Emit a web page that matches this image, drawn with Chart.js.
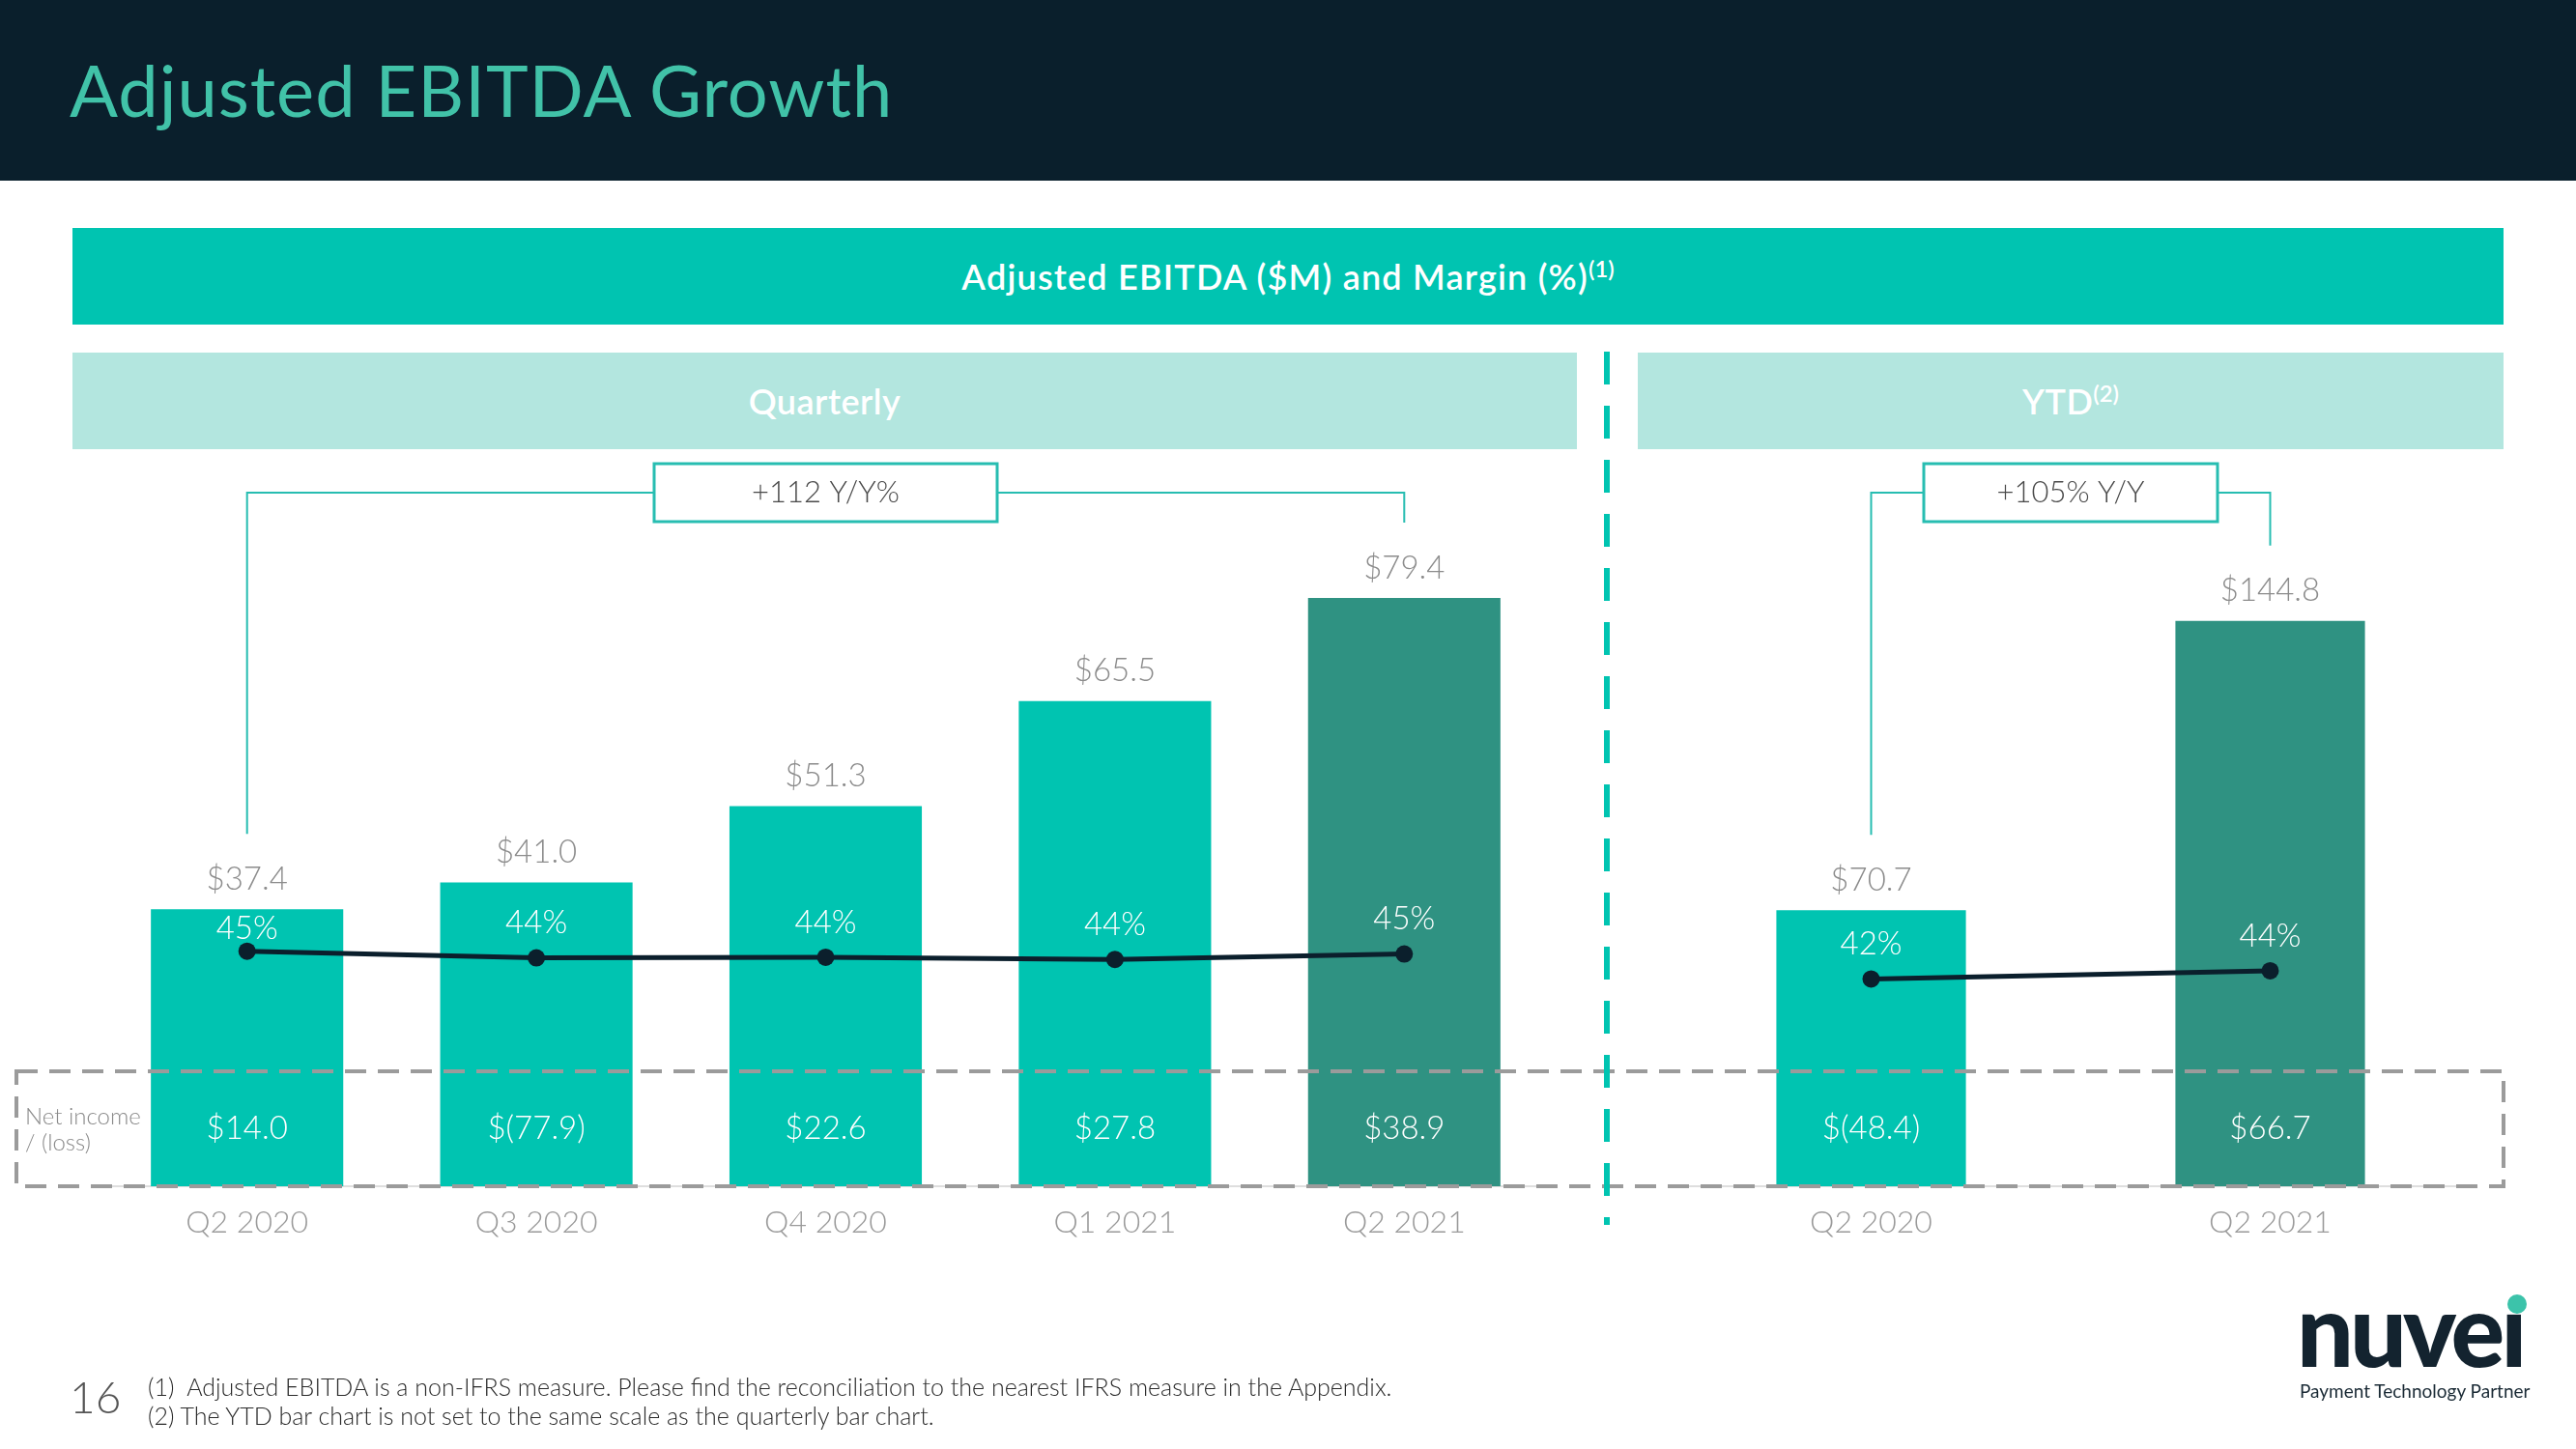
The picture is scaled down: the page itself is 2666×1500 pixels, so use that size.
<!DOCTYPE html>
<html>
<head>
<meta charset="utf-8">
<script src="https://cdn.jsdelivr.net/npm/chart.js@4.4.1/dist/chart.umd.min.js"></script>
<style>
body { margin: 0; width: 2666px; height: 1500px; position: relative; background: #fff; font-family: Lato, sans-serif; overflow: hidden; }
.abs { position: absolute; }
#header { left: 0; top: 0; width: 2666px; height: 187px; background: #0a1f2c; }
#title { left: 72px; top: 56px; font-size: 74px; line-height: 1; color: #41c2a8; white-space: nowrap; letter-spacing: 1px; }
#band { left: 75px; top: 236px; width: 2516px; height: 100px; background: #00c4b1; color: #fff; display: flex; align-items: center; justify-content: center; font-size: 36px; font-weight: 600; letter-spacing: 1.2px; }
.sub { top: 365px; height: 100px; background: #b3e6df; color: #fff; display: flex; align-items: center; justify-content: center; font-size: 36px; font-weight: 600; letter-spacing: 0.5px; }
sup { font-size: 66%; line-height: 0; position: relative; top: -0.55em; vertical-align: baseline; letter-spacing: 0; }
#netlabel { left: 26px; top: 1141px; font-size: 24px; line-height: 27px; color: #8a8a8a; font-weight: 300; }
#page { left: 72px; top: 1423px; font-size: 46px; line-height: 1; color: #555; font-weight: 300; }
#notes { left: 153px; top: 1420px; font-size: 25px; line-height: 30px; color: #2a2a2a; font-weight: 300; white-space: nowrap; }
#logo { left: 2377px; top: 1323px; font-size: 104px; line-height: 1; font-weight: 900; color: #13232f; letter-spacing: -4px; }
#dot { left: 2595px; top: 1340px; width: 20px; height: 20px; border-radius: 50%; background: #3cc3aa; }
#tagline { left: 2380px; top: 1428px; font-size: 19px; line-height: 24px; color: #1a2a35; }
canvas { position: absolute; }
svg { position: absolute; left: 0; top: 0; pointer-events: none; }
</style>
</head>
<body>
<div id="header" class="abs"></div>
<div id="title" class="abs">Adjusted EBITDA Growth</div>
<div id="band" class="abs"><span>Adjusted EBITDA ($M) and Margin (%)<sup>(1)</sup></span></div>
<div class="abs sub" style="left:75px;width:1557px;"><span>Quarterly</span></div>
<div class="abs sub" style="left:1695px;width:896px;"><span>YTD<sup>(2)</sup></span></div>

<canvas id="quarterChart" width="1640" height="830" style="left:0;top:470px;"></canvas>
<canvas id="ytdChart" width="986" height="830" style="left:1680px;top:470px;"></canvas>

<svg width="2666" height="1500">
  <rect x="17" y="1109" width="2574" height="119" fill="none" stroke="#9b9b9b" stroke-width="4" stroke-dasharray="22 12"/>
  <line x1="1663" y1="364" x2="1663" y2="1268" stroke="#00c4b1" stroke-width="6" stroke-dasharray="34 22"/>
</svg>

<div id="netlabel" class="abs">Net income<br>/ (loss)</div>
<div id="page" class="abs">16</div>
<div id="notes" class="abs">(1)&nbsp; Adjusted EBITDA is a non-IFRS measure. Please find the reconciliation to the nearest IFRS measure in the Appendix.<br>(2) The YTD bar chart is not set to the same scale as the quarterly bar chart.</div>
<div id="logo" class="abs">nuveı</div>
<div id="dot" class="abs"></div>
<div id="tagline" class="abs">Payment Technology Partner</div>

<script>
// quarterly data
var quarters = ['Q2 2020', 'Q3 2020', 'Q4 2020', 'Q1 2021', 'Q2 2021'];
var quarterEbitda = [37.4, 41.0, 51.3, 65.5, 79.4];
var quarterMargin = [45.1, 43.9, 44.0, 43.6, 44.6];
var quarterNet = [14.0, -77.9, 22.6, 27.8, 38.9];

// year to date data
var ytdPeriods = ['Q2 2020', 'Q2 2021'];
var ytdEbitda = [70.7, 144.8];
var ytdMargin = [42.0, 44.0];
var ytdNet = [-48.4, 66.7];

var teal = '#00c4b1';
var darkTeal = '#2f9282';
var navy = '#0b1f2c';

function money(v) {
    return v < 0 ? '$(' + Math.abs(v).toFixed(1) + ')' : '$' + v.toFixed(1);
}

var valueLabels = {
    id: 'valueLabels',
    afterDatasetsDraw: function(chart, args, opts) {
        var ctx = chart.ctx;
        var bars = chart.getDatasetMeta(0).data;
        var pts = chart.getDatasetMeta(1).data;
        var vals = chart.data.datasets[0].data;
        var margins = chart.data.datasets[1].data;
        ctx.save();
        ctx.textAlign = 'center';
        ctx.textBaseline = 'middle';
        ctx.font = '300 33px Lato';
        bars.forEach(function(b, i) {
            ctx.fillStyle = '#8c8c8c';
            ctx.fillText(money(vals[i]), b.x, b.y - 31);
            ctx.fillStyle = '#fff';
            // keep the margin label inside the bar
            var ly = Math.max(pts[i].y - 36, b.y + 20);
            ctx.fillText(Math.round(margins[i]) + '%', pts[i].x, ly);
            ctx.fillText(money(opts.net[i]), b.x, chart.chartArea.bottom - 60);
        });

        // growth bracket
        var first = bars[0], last = bars[bars.length - 1];
        var lineY = 40;
        var cx = (first.x + last.x) / 2;
        ctx.strokeStyle = '#27bdb1';
        ctx.lineWidth = 2;
        ctx.beginPath();
        ctx.moveTo(first.x, first.y - 78);
        ctx.lineTo(first.x, lineY);
        ctx.lineTo(last.x, lineY);
        ctx.lineTo(last.x, last.y - 78);
        ctx.stroke();
        ctx.fillStyle = '#fff';
        ctx.fillRect(cx - opts.boxW / 2, lineY - 30, opts.boxW, 60);
        ctx.lineWidth = 3;
        ctx.strokeRect(cx - opts.boxW / 2, lineY - 30, opts.boxW, 60);
        ctx.fillStyle = '#4a4a4a';
        ctx.font = '300 31px Lato';
        ctx.fillText(opts.text, cx, lineY);
        ctx.restore();
    }
};

function makeChart(id, labels, ebitda, margin, net, cfg) {
    var colors = labels.map(function(l, i) { return i === labels.length - 1 ? darkTeal : teal; });
    return new Chart(document.getElementById(id), {
        type: 'bar',
        data: {
            labels: labels,
            datasets: [
                {
                    type: 'bar',
                    data: ebitda,
                    backgroundColor: colors,
                    barPercentage: cfg.barPct,
                    categoryPercentage: 1,
                    yAxisID: 'y',
                    order: 1
                },
                {
                    type: 'line',
                    data: margin,
                    borderColor: navy,
                    borderWidth: 5,
                    pointRadius: 9,
                    pointBackgroundColor: navy,
                    pointBorderWidth: 0,
                    tension: 0,
                    yAxisID: 'y1',
                    order: 0
                }
            ]
        },
        options: {
            responsive: false,
            animation: false,
            layout: { padding: { left: cfg.padLeft, right: cfg.padRight, top: 90, bottom: 0 } },
            scales: {
                x: {
                    grid: { display: false, drawTicks: false },
                    border: { display: true, color: '#dedede', width: 2 },
                    ticks: { color: '#9a9a9a', font: { family: 'Lato', size: 32, weight: '300' }, padding: 18 },
                    afterFit: function(s) { s.height = 72; }
                },
                y: { display: false, min: 0, max: cfg.yMax },
                y1: { display: false, min: cfg.mMin, max: cfg.mMax }
            },
            plugins: {
                legend: { display: false },
                tooltip: { enabled: false },
                valueLabels: { net: net, text: cfg.text, boxW: cfg.boxW }
            }
        },
        plugins: [valueLabels]
    });
}

makeChart('quarterChart', quarters, quarterEbitda, quarterMargin, quarterNet, {
    barPct: 0.665, padLeft: 106, padRight: 37, yMax: 87.1, mMin: 2.2, mMax: 120,
    text: '+112 Y/Y%', boxW: 355
});

makeChart('ytdChart', ytdPeriods, ytdEbitda, ytdMargin, ytdNet, {
    barPct: 0.475, padLeft: 50, padRight: 110, yMax: 165.3, mMin: -8.5, mMax: 148.7,
    text: '+105% Y/Y', boxW: 304
});
</script>
</body>
</html>
